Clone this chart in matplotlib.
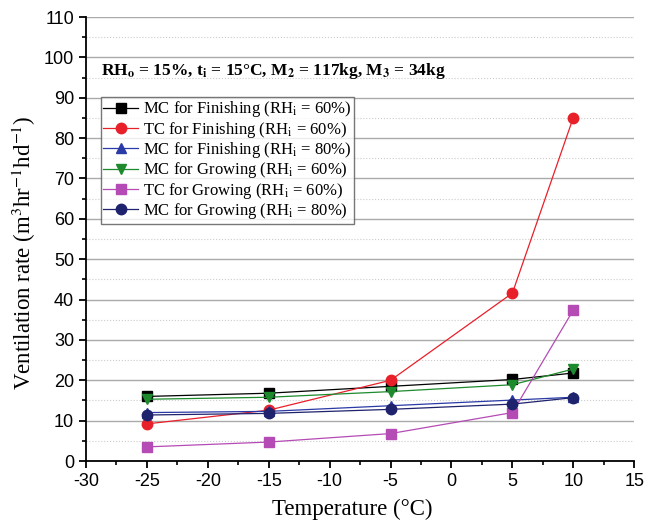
import numpy as np
import matplotlib.pyplot as plt
from matplotlib.ticker import MultipleLocator

plt.rcParams['mathtext.fontset'] = 'stix'
plt.rcParams['axes.unicode_minus'] = False

temps = [-25, -15, -5, 5, 10]

mc_fin_60 = [16.0, 16.8, 18.5, 20.2, 21.8]
tc_fin_60 = [9.2, 12.6, 20.0, 41.6, 85.1]
mc_fin_80 = [12.0, 12.3, 13.7, 15.1, 15.8]
mc_gro_60 = [15.3, 15.8, 17.2, 18.9, 22.8]
tc_gro_60 = [3.5, 4.7, 6.8, 12.0, 37.4]
mc_gro_80 = [11.4, 11.8, 12.8, 14.1, 15.7]

labels = ['MC for Finishing (RH$_{\\mathrm{i}}$ = 60%)',
          'TC for Finishing (RH$_{\\mathrm{i}}$ = 60%)',
          'MC for Finishing (RH$_{\\mathrm{i}}$ = 80%)',
          'MC for Growing (RH$_{\\mathrm{i}}$ = 60%)',
          'TC for Growing (RH$_{\\mathrm{i}}$ = 60%)',
          'MC for Growing (RH$_{\\mathrm{i}}$ = 80%)']

series = [mc_fin_60, tc_fin_60, mc_fin_80, mc_gro_60, tc_gro_60, mc_gro_80]
colors = ['#000000', '#e8202a', '#2a3aa6', '#1e8a2e', '#b54bb4', '#1f236e']
markers = ['s', 'o', '^', 'v', 's', 'o']

fig = plt.figure(figsize=(6.45, 5.27), dpi=100)
ax = fig.add_axes([0.1333, 0.1252, 0.85, 0.8425])

for y, c, m, lab in zip(series, colors, markers, labels):
    ax.plot(temps, y, color=c, marker=m, markersize=7.5, linewidth=0.9,
            label=lab)

ax.set_xlim(-30, 15)
ax.set_ylim(0, 110)
ax.xaxis.set_major_locator(MultipleLocator(5))
ax.xaxis.set_minor_locator(MultipleLocator(2.5))
ax.yaxis.set_major_locator(MultipleLocator(10))
ax.yaxis.set_minor_locator(MultipleLocator(5))

ax.grid(axis='y', which='major', color='#aaaaaa', linewidth=1.0, linestyle='-')
ax.grid(axis='y', which='minor', color='#cccccc', linewidth=0.8, linestyle=':')
ax.yaxis.get_gridlines()[-1].set_visible(False)
ax.set_axisbelow(True)

for s in ['top', 'right']:
    ax.spines[s].set_visible(False)
for s in ['left', 'bottom']:
    ax.spines[s].set_linewidth(1.3)

ax.tick_params(which='major', direction='out', length=5, width=1.3,
               labelsize=13)
ax.tick_params(which='minor', direction='out', length=3, width=1.2)
for t in ax.get_xticklabels() + ax.get_yticklabels():
    t.set_fontfamily('Liberation Sans')

ax.set_xlabel('Temperature (°C)', fontfamily='Liberation Serif', fontsize=16.5)
ax.set_ylabel('Ventilation rate (m$^3$hr$^{-1}$hd$^{-1}$)',
              fontfamily='Liberation Serif', fontsize=16.5)
ax.xaxis.set_label_coords(0.486, -0.085)
ax.yaxis.set_label_coords(-0.087, 0.47)

ax.text(-28.8, 96.6,
        'RH$_{\\mathbf{o}}$ = 15%, t$_{\\mathbf{i}}$ = 15°C, '
        'M$_{\\mathbf{2}}$ = 117kg, M$_{\\mathbf{3}}$ = 34kg',
        fontfamily='Liberation Serif', fontweight='bold', fontsize=12.5,
        va='center', ha='left')

leg = ax.legend(loc='upper left', bbox_to_anchor=(0.027, 0.82),
                prop={'family': 'Liberation Serif', 'size': 12},
                frameon=True, fancybox=False, edgecolor='#555555',
                handlelength=2.1, handletextpad=0.3, borderpad=0.15,
                labelspacing=0.02, borderaxespad=0.0)
leg.get_frame().set_linewidth(1.0)

fig.savefig('out.png', dpi=100)
